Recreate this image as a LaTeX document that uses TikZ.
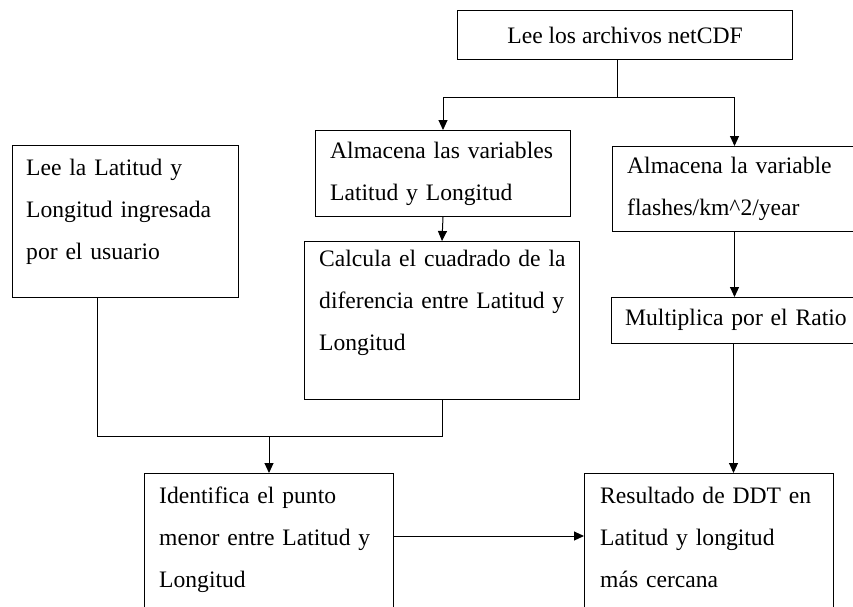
\documentclass[tikz,border=0pt]{standalone}
\usepackage{fontspec}
\setmainfont{Liberation Serif}
\usetikzlibrary{arrows.meta}

\begin{document}
\begin{tikzpicture}
[x=1pt, y=-1pt,
caja/.style={draw, line width=1pt, anchor=north west, inner sep=0pt},
texto/.style={anchor=north west, inner sep=0pt, text width=300pt, align=left,
	text height=29pt, font=\fontsize{23.6}{42}\selectfont},
flecha/.style={line width=1pt, -{Triangle[length=10pt,width=9pt]}}]
\clip (0,0) rectangle (853,606);

\node [caja, minimum width=335pt, minimum height=49pt, font=\fontsize{23.6}{42}\selectfont] (netcdf) at (457,10) {Lee los archivos netCDF};
\node [caja, minimum width=255pt, minimum height=86pt] (vars) at (315,130) {};
\node [caja, minimum width=244pt, minimum height=85pt] (flashes) at (612,146) {};
\node [caja, minimum width=244pt, minimum height=46pt] (ratio) at (611,297) {};
\node [caja, minimum width=226pt, minimum height=152pt] (usuario) at (12,145) {};
\node [caja, minimum width=275pt, minimum height=158pt] (calcula) at (304,241) {};
\node [caja, minimum width=249pt, minimum height=200pt] (ident) at (144,473) {};
\node [caja, minimum width=249pt, minimum height=200pt] (result) at (584,473) {};

\node [texto, text height=28pt] (t-vars) at ([xshift=15pt]vars.north west) {Almacena las variables\\Latitud y Longitud};
\node [texto, text height=27pt] (t-flashes) at ([xshift=15pt]flashes.north west) {Almacena la variable\\flashes/km\textasciicircum 2/year};
\node [texto, text height=28pt] (t-ratio) at ([xshift=14pt]ratio.north west) {Multiplica por el Ratio};
\node [texto, text height=30pt] (t-usuario) at ([xshift=14pt]usuario.north west) {Lee la Latitud y\\Longitud ingresada\\por el usuario};
\node [texto, text height=25pt] (t-calcula) at ([xshift=15pt]calcula.north west) {Calcula el cuadrado de la\\diferencia entre Latitud y\\Longitud};
\node [texto, text height=30pt] (t-ident) at ([xshift=15pt]ident.north west) {Identifica el punto\\menor entre Latitud y\\Longitud};
\node [texto, text height=30pt] (t-result) at ([xshift=16pt]result.north west) {Resultado de DDT en\\Latitud y longitud\\más cercana};

\draw [line width=1pt] ([xshift=-8pt]netcdf.south) -- ++(0,37) coordinate (rama);
\draw [flecha] (rama) -| (vars.north);
\draw [flecha] (rama) -| (flashes.north);
\draw [flecha] (vars.south) -- (calcula.north);
\draw [flecha] (flashes.south) -- (flashes.south |- ratio.north);
\draw [flecha] (ratio.south) -- (ratio.south |- result.north);

\path (ident.north) ++(0,-37) coordinate (union);
\draw [line width=1pt] ([xshift=-28pt]usuario.south) |- (union) -| (calcula.south);
\draw [flecha] (union) -- (ident.north);
\draw [flecha] ([yshift=-63pt]ident.north east) -- ([yshift=-63pt]ident.north east -| result.west);
\end{tikzpicture}
\end{document}
